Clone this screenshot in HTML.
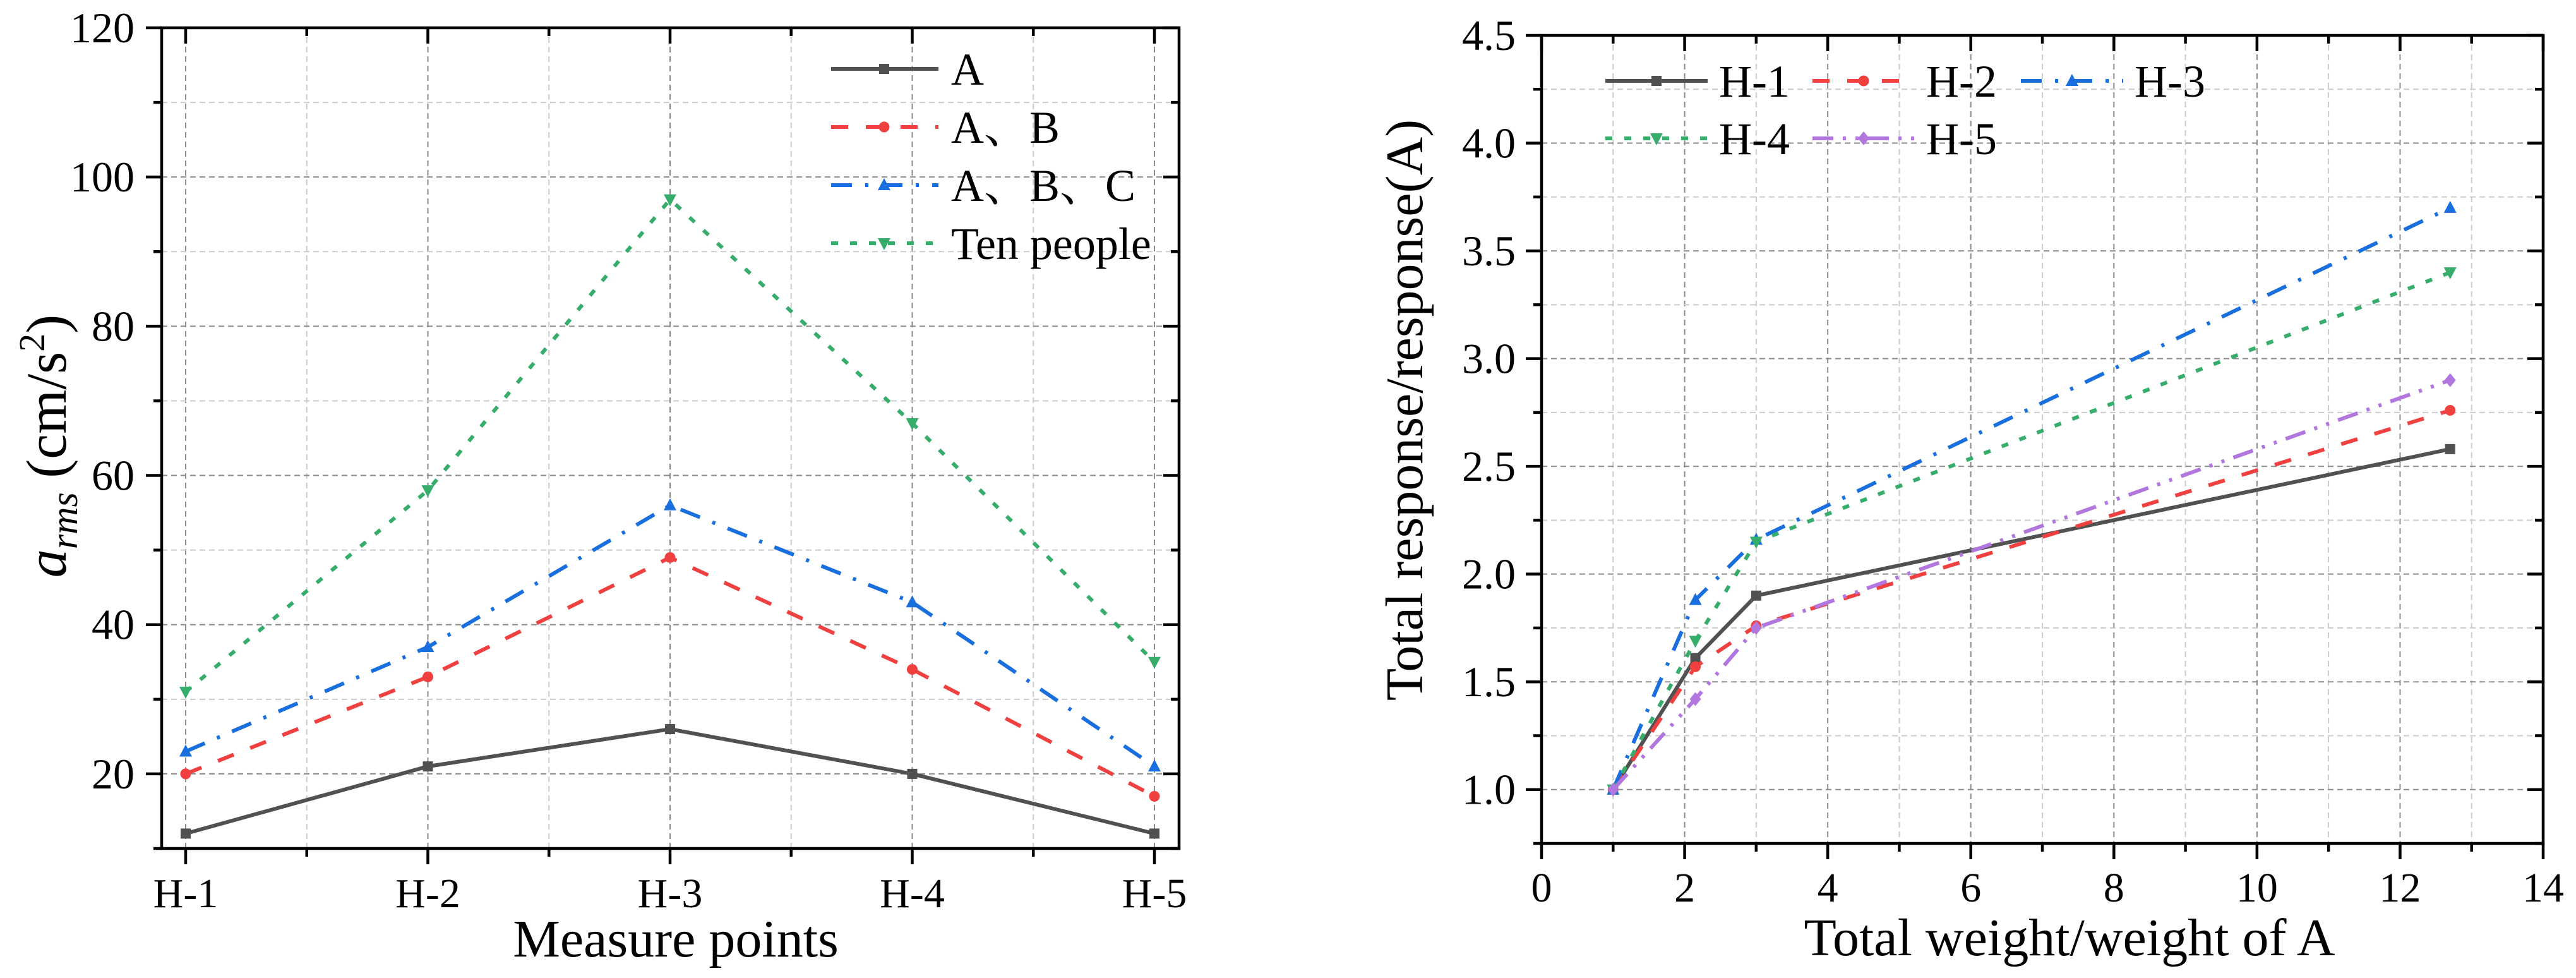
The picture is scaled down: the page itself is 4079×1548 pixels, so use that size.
<!DOCTYPE html>
<html><head><meta charset="utf-8"><style>
html,body{margin:0;padding:0;background:#fff;}
svg{display:block;}
text{font-family:"Liberation Serif","Noto Serif CJK SC","Noto Sans CJK SC",serif;}
</style></head><body>
<svg id="fig" width="4079" height="1548" viewBox="0 0 4079 1548" xmlns="http://www.w3.org/2000/svg"></svg>
<script>
// ---- Left chart data ----
const leftCategories = ["H-1","H-2","H-3","H-4","H-5"];
const leftSeriesNames = ["A","A、B","A、B、C","Ten people"];
const leftA   = [12,21,26,20,12];
const leftAB  = [20,33,49,34,17];
const leftABC = [23,37,56,43,21];
const leftTen = [31,58,97,67,35];
const leftYTicks = [20,40,60,80,100,120];
// ---- Right chart data ----
const rightX = [1,2.15,3,12.7];
const rightH1 = [1.0,1.61,1.9,2.58];
const rightH2 = [1.0,1.57,1.76,2.76];
const rightH3 = [1.0,1.88,2.16,3.7];
const rightH4 = [1.0,1.69,2.15,3.4];
const rightH5 = [1.0,1.42,1.75,2.9];
const rightSeriesNames = ["H-1","H-2","H-3","H-4","H-5"];
const rightXTicks = [0,2,4,6,8,10,12,14];
const rightYTicks = [1.0,1.5,2.0,2.5,3.0,3.5,4.0,4.5];

const NS="http://www.w3.org/2000/svg";
const FONT='"Liberation Serif","Noto Serif CJK SC","Noto Sans CJK SC",serif';
const svg=document.getElementById('fig');
function mk(tag,attrs,parent){const e=document.createElementNS(NS,tag);for(const k in attrs)e.setAttribute(k,attrs[k]);(parent||svg).appendChild(e);return e;}

const COLORS=["#515151","#F14040","#1A6FDF","#37AD6B","#B177DE"];
const DASH=["none","27,28","33,21,5,21","11,19","33,15,5,15,5,15"];
const MARK=["square","circle","tri-up","tri-down","diamond"];

function marker(g,type,x,y,color){
  let e;
  if(type==="square") e=mk('rect',{x:x-8,y:y-8,width:16,height:16,fill:color},g);
  else if(type==="circle") e=mk('circle',{cx:x,cy:y,r:8.5,fill:color},g);
  else if(type==="tri-up") e=mk('polygon',{points:`${x},${y-11} ${x-10},${y+8} ${x+10},${y+8}`,fill:color},g);
  else if(type==="tri-down") e=mk('polygon',{points:`${x},${y+11} ${x-10},${y-8} ${x+10},${y-8}`,fill:color},g);
  else e=mk('polygon',{points:`${x},${y-11} ${x+9},${y} ${x},${y+11} ${x-9},${y}`,fill:color},g);
  
  
  return e;
}
function txt(g,s,x,y,size,anchor){
  const t=mk('text',{x:x,y:y,'font-size':size,'text-anchor':anchor||'start',fill:'#000','font-family':FONT},g);
  t.textContent=s;return t;
}

// ================= LEFT CHART =================
(function(){
  const L=256,R=1867,T=44,B=1343;
  const ymin=10,ymax=120;
  const yS=v=>B-(v-ymin)/(ymax-ymin)*(B-T);
  const x0=294,dx=(1828-294)/4;
  const xS=i=>x0+i*dx;
  const g=mk('g',{});
  
  
  const grid=mk('g',{},g);
  
  
  for(let i=0;i<leftCategories.length;i++){
    mk('line',{x1:xS(i),x2:xS(i),y1:T,y2:B,stroke:'#8c8c8c','stroke-width':2,'stroke-dasharray':'9,6'},grid);
    if(i<leftCategories.length-1) mk('line',{x1:xS(i+0.5),x2:xS(i+0.5),y1:T,y2:B,stroke:'#cccccc','stroke-width':2,'stroke-dasharray':'9,6'},grid);
  }
  leftYTicks.forEach(v=>{
    if(v<ymax) mk('line',{x1:L,x2:R,y1:yS(v),y2:yS(v),stroke:'#8c8c8c','stroke-width':2,'stroke-dasharray':'9,6'},grid);
    if(v-10>ymin) mk('line',{x1:L,x2:R,y1:yS(v-10),y2:yS(v-10),stroke:'#cccccc','stroke-width':2,'stroke-dasharray':'9,6'},grid);
  });
  const series=[leftA,leftAB,leftABC,leftTen];
  series.forEach((arr,si)=>{
    const sg=mk('g',{},g);
    
    
    const pts=arr.map((v,i)=>xS(i)+','+yS(v)).join(' ');
    mk('polyline',{points:pts,fill:'none',stroke:COLORS[si],'stroke-width':6,'stroke-dasharray':DASH[si]},sg);
    arr.forEach((v,i)=>marker(sg,MARK[si],xS(i),yS(v),COLORS[si]));
  });
  const ax=mk('g',{stroke:'#000','stroke-width':4.5},g);
  
  
  mk('rect',{x:L,y:T,width:R-L,height:B-T,fill:'none'},ax);
  for(let i=0;i<leftCategories.length;i++){
    mk('line',{x1:xS(i),x2:xS(i),y1:B,y2:B+25},ax);
    mk('line',{x1:xS(i),x2:xS(i),y1:T,y2:T+25},ax);
    if(i<leftCategories.length-1){
      mk('line',{x1:xS(i+0.5),x2:xS(i+0.5),y1:B,y2:B+13},ax);
      mk('line',{x1:xS(i+0.5),x2:xS(i+0.5),y1:T,y2:T+13},ax);
    }
  }
  leftYTicks.forEach(v=>{
    mk('line',{x1:L-25,x2:L,y1:yS(v),y2:yS(v)},ax);
    mk('line',{x1:R-25,x2:R,y1:yS(v),y2:yS(v)},ax);
    mk('line',{x1:L-13,x2:L,y1:yS(v-10),y2:yS(v-10)},ax);
    mk('line',{x1:R-13,x2:R,y1:yS(v-10),y2:yS(v-10)},ax);
  });
  leftYTicks.forEach(v=>{const t=txt(g,String(v),213,yS(v)+23,68,'end');
    
    });
  leftCategories.forEach((c,i)=>{const t=txt(g,c,xS(i),1436,66,'middle');
    
    });
  const xt=txt(g,'Measure points',1070,1514,84,'middle');
  
  
  const yt=mk('text',{x:0,y:0,'font-size':90,'text-anchor':'middle','font-family':FONT,transform:'translate(104,706) rotate(-90)'},g);
  
  
  yt.innerHTML='<tspan font-style="italic">a</tspan><tspan font-style="italic" font-size="60" dy="18">rms</tspan><tspan dy="-18"> (cm/s</tspan><tspan font-size="58" dy="-34">2</tspan><tspan dy="34">)</tspan>';
  const lg=mk('g',{},g);
  
  
  const rows=[109,201,293,385];
  leftSeriesNames.forEach((n,si)=>{
    const e=mk('g',{},lg);
    
    
    mk('line',{x1:1316,x2:1486,y1:rows[si],y2:rows[si],stroke:COLORS[si],'stroke-width':6,'stroke-dasharray':DASH[si]},e);
    marker(e,MARK[si],1400,rows[si],COLORS[si]);
    txt(e,n,1506,rows[si]+25,72,'start');
  });
})();

// ================= RIGHT CHART =================
(function(){
  const L=2441,R=4027,T=56,B=1335;
  const xmin=0,xmax=14,ymin=0.75,ymax=4.5;
  const xS=v=>L+(v-xmin)/(xmax-xmin)*(R-L);
  const yS=v=>B-(v-ymin)/(ymax-ymin)*(B-T);
  const g=mk('g',{});
  
  
  const grid=mk('g',{},g);
  
  
  rightXTicks.forEach(v=>{
    if(v>xmin&&v<xmax) mk('line',{x1:xS(v),x2:xS(v),y1:T,y2:B,stroke:'#8c8c8c','stroke-width':2,'stroke-dasharray':'9,6'},grid);
    if(v+1<xmax) mk('line',{x1:xS(v+1),x2:xS(v+1),y1:T,y2:B,stroke:'#cccccc','stroke-width':2,'stroke-dasharray':'9,6'},grid);
  });
  rightYTicks.forEach(v=>{
    if(v<ymax) mk('line',{x1:L,x2:R,y1:yS(v),y2:yS(v),stroke:'#8c8c8c','stroke-width':2,'stroke-dasharray':'9,6'},grid);
    if(v+0.25<ymax) mk('line',{x1:L,x2:R,y1:yS(v+0.25),y2:yS(v+0.25),stroke:'#cccccc','stroke-width':2,'stroke-dasharray':'9,6'},grid);
  });
  const series=[rightH1,rightH2,rightH3,rightH4,rightH5];
  series.forEach((arr,si)=>{
    const sg=mk('g',{},g);
    
    
    const pts=arr.map((v,i)=>xS(rightX[i])+','+yS(v)).join(' ');
    mk('polyline',{points:pts,fill:'none',stroke:COLORS[si],'stroke-width':6,'stroke-dasharray':DASH[si]},sg);
    arr.forEach((v,i)=>marker(sg,MARK[si],xS(rightX[i]),yS(v),COLORS[si]));
  });
  const ax=mk('g',{stroke:'#000','stroke-width':4.5},g);
  
  
  mk('rect',{x:L,y:T,width:R-L,height:B-T,fill:'none'},ax);
  rightXTicks.forEach(v=>{
    mk('line',{x1:xS(v),x2:xS(v),y1:B,y2:B+25},ax);
    mk('line',{x1:xS(v),x2:xS(v),y1:T,y2:T+25},ax);
    if(v+1<xmax){
      mk('line',{x1:xS(v+1),x2:xS(v+1),y1:B,y2:B+13},ax);
      mk('line',{x1:xS(v+1),x2:xS(v+1),y1:T,y2:T+13},ax);
    }
  });
  rightYTicks.forEach(v=>{
    mk('line',{x1:L-25,x2:L,y1:yS(v),y2:yS(v)},ax);
    mk('line',{x1:R-25,x2:R,y1:yS(v),y2:yS(v)},ax);
    const m=v-0.25;
    mk('line',{x1:L-13,x2:L,y1:yS(m),y2:yS(m)},ax);
    mk('line',{x1:R-13,x2:R,y1:yS(m),y2:yS(m)},ax);
  });
  rightYTicks.forEach(v=>{const t=txt(g,v.toFixed(1),2400,yS(v)+23,68,'end');
    
    });
  rightXTicks.forEach(v=>{const t=txt(g,String(v),xS(v),1427,66,'middle');
    
    });
  const xt=txt(g,'Total weight/weight of A',3277,1512,84,'middle');
  
  
  const yt=mk('text',{x:0,y:0,'font-size':84,'text-anchor':'middle','font-family':FONT,transform:'translate(2252,649) rotate(-90)'},g);
  yt.textContent='Total response/response(A)';
  
  
  const lg=mk('g',{},g);
  
  
  const pos=[[2542,128],[2870,128],[3200,128],[2542,219],[2870,219]];
  rightSeriesNames.forEach((n,si)=>{
    const [x,y]=pos[si];
    const e=mk('g',{},lg);
    
    
    mk('line',{x1:x,x2:x+162,y1:y,y2:y,stroke:COLORS[si],'stroke-width':6,'stroke-dasharray':DASH[si]},e);
    marker(e,MARK[si],x+81,y,COLORS[si]);
    txt(e,n,x+180,y+25,72,'start');
  });
})();
</script>
</body></html>
